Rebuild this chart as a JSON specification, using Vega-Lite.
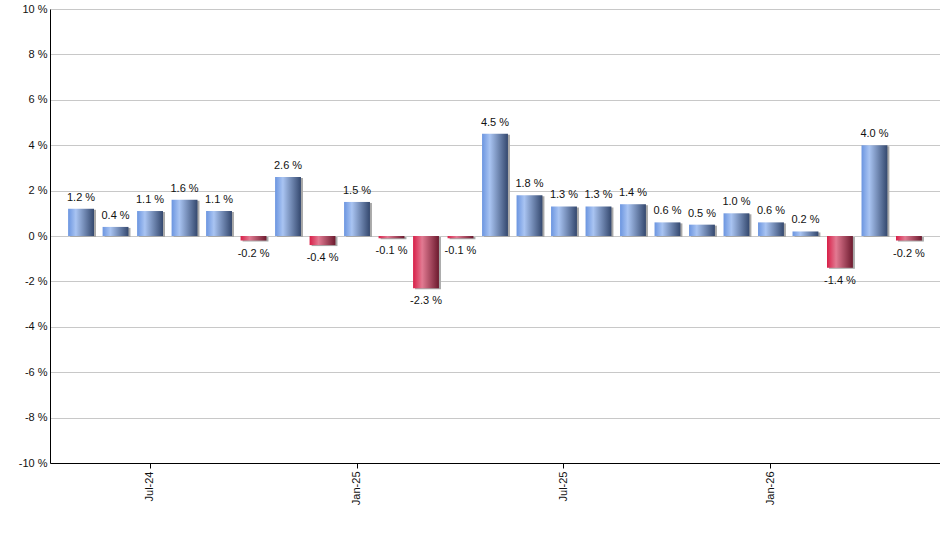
{
  "$schema": "https://vega.github.io/schema/vega-lite/v6.json",
  "width": 890,
  "height": 454,
  "autosize": {"type": "none"},
  "padding": {"left": 50, "top": 9, "right": 0, "bottom": 87},
  "background": "white",
  "data": {
    "values": [
      {"month": "May-24", "value": 1.2},
      {"month": "Jun-24", "value": 0.4},
      {"month": "Jul-24", "value": 1.1},
      {"month": "Aug-24", "value": 1.6},
      {"month": "Sep-24", "value": 1.1},
      {"month": "Oct-24", "value": -0.2},
      {"month": "Nov-24", "value": 2.6},
      {"month": "Dec-24", "value": -0.4},
      {"month": "Jan-25", "value": 1.5},
      {"month": "Feb-25", "value": -0.1},
      {"month": "Mar-25", "value": -2.3},
      {"month": "Apr-25", "value": -0.1},
      {"month": "May-25", "value": 4.5},
      {"month": "Jun-25", "value": 1.8},
      {"month": "Jul-25", "value": 1.3},
      {"month": "Aug-25", "value": 1.3},
      {"month": "Sep-25", "value": 1.4},
      {"month": "Oct-25", "value": 0.6},
      {"month": "Nov-25", "value": 0.5},
      {"month": "Dec-25", "value": 1.0},
      {"month": "Jan-26", "value": 0.6},
      {"month": "Feb-26", "value": 0.2},
      {"month": "Mar-26", "value": -1.4},
      {"month": "Apr-26", "value": 4.0},
      {"month": "May-26", "value": -0.2}
    ]
  },
  "encoding": {
    "x": {
      "field": "month",
      "type": "ordinal",
      "sort": null,
      "title": null,
      "scale": {"paddingInner": 0.25, "paddingOuter": 0.525},
      "axis": {
        "values": ["Jul-24", "Jan-25", "Jul-25", "Jan-26"],
        "labelAngle": -90,
        "labelPadding": 3,
        "tickSize": 5,
        "tickColor": "black",
        "domainColor": "black",
        "grid": false
      }
    },
    "y": {
      "field": "value",
      "type": "quantitative",
      "title": null,
      "scale": {"domain": [-10, 10], "nice": false},
      "axis": {
        "values": [-10, -8, -6, -4, -2, 0, 2, 4, 6, 8, 10],
        "labelExpr": "datum.value + ' %'",
        "ticks": false,
        "labelPadding": 3,
        "domainColor": "black",
        "grid": true,
        "gridColor": "#c8c8c8"
      }
    }
  },
  "layer": [
    {
      "mark": {"type": "bar", "color": "#a8a8a8", "xOffset": 2, "yOffset": 1}
    },
    {
      "transform": [{"filter": "datum.value >= 0"}],
      "mark": {
        "type": "bar",
        "color": {
          "gradient": "linear",
          "x1": 0, "y1": 0, "x2": 1, "y2": 0,
          "stops": [
            {"offset": 0, "color": "#6b95e0"},
            {"offset": 0.3, "color": "#a9c4f2"},
            {"offset": 1, "color": "#34486e"}
          ]
        }
      }
    },
    {
      "transform": [{"filter": "datum.value < 0"}],
      "mark": {
        "type": "bar",
        "color": {
          "gradient": "linear",
          "x1": 0, "y1": 0, "x2": 1, "y2": 0,
          "stops": [
            {"offset": 0, "color": "#d81f48"},
            {"offset": 0.35, "color": "#e27a92"},
            {"offset": 1, "color": "#6c1a2e"}
          ]
        }
      }
    },
    {
      "transform": [{"filter": "datum.value >= 0"}],
      "mark": {
        "type": "text", "baseline": "bottom", "dy": -6, "fontSize": 11, "color": "#111",
        "text": {"expr": "format(datum.value, '.1f') + ' %'"}
      }
    },
    {
      "transform": [{"filter": "datum.value < 0"}],
      "mark": {
        "type": "text", "baseline": "top", "dy": 7, "fontSize": 11, "color": "#111",
        "text": {"expr": "'-' + format(abs(datum.value), '.1f') + ' %'"}
      }
    }
  ],
  "config": {
    "font": "Liberation Sans",
    "view": {"stroke": null},
    "axis": {"labelFont": "Liberation Sans", "labelFontSize": 11, "labelColor": "#111"},
    "text": {"font": "Liberation Sans"}
  }
}
